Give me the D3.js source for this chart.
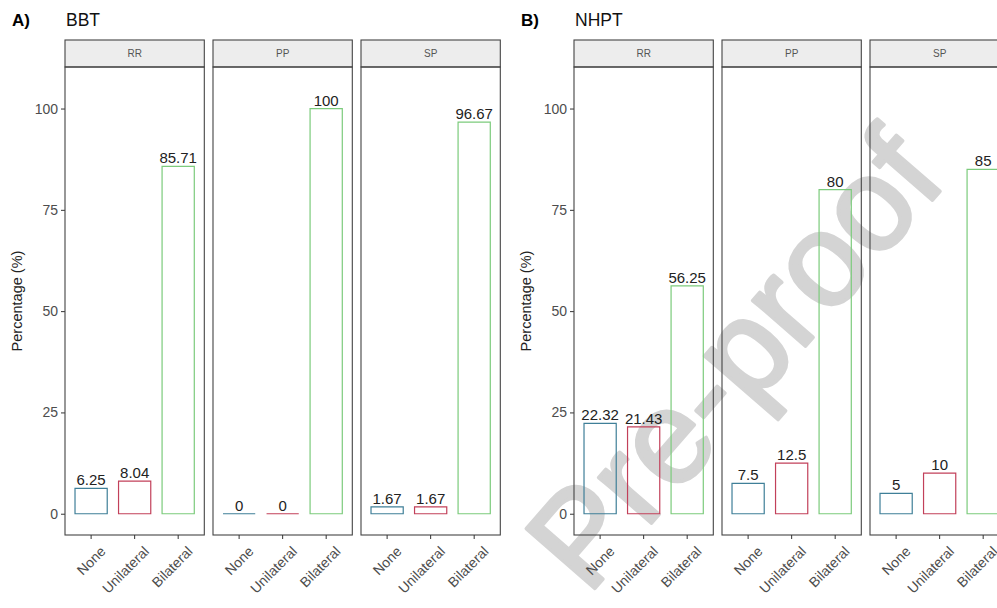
<!DOCTYPE html>
<html>
<head>
<meta charset="utf-8">
<script src="https://cdn.jsdelivr.net/npm/d3@7"></script>
<style>
  html, body { margin: 0; padding: 0; background: #fff; }
  svg { display: block; font-family: "Liberation Sans", Arial, Helvetica, sans-serif; }
</style>
</head>
<body>
<svg id="chart" width="997" height="608"></svg>
<script>
// ---- data ----
const categories = ["None", "Unilateral", "Bilateral"];
const facets = ["RR", "PP", "SP"];
const bbtRR = [6.25, 8.04, 85.71];
const bbtPP = [0, 0, 100];
const bbtSP = [1.67, 1.67, 96.67];
const nhptRR = [22.32, 21.43, 56.25];
const nhptPP = [7.5, 12.5, 80];
const nhptSP = [5, 10, 85];
const yTicks = [0, 25, 50, 75, 100];
const panelTitles = ["BBT", "NHPT"];
const panelTags = ["A)", "B)"];
const yTitle = "Percentage (%)";

const groups = [
  { tag: panelTags[0], title: panelTitles[0], series: [bbtRR, bbtPP, bbtSP], x0: 65 },
  { tag: panelTags[1], title: panelTitles[1], series: [nhptRR, nhptPP, nhptSP], x0: 574 }
];

// ---- style ----
const strokeCol = { "None": "#3f7f98", "Unilateral": "#c2405a", "Bilateral": "#7ccb7c" };
const panelW = 139.3, gap = 8.7;
const stripTop = 40, stripH = 27;
const plotTop = stripTop + stripH, plotBottom = 535;

const svg = d3.select("#chart");

// watermark (drawn first, chart lines over it)
svg.append("text")
  .attr("transform", "translate(742,366) rotate(-49)")
  .attr("text-anchor", "middle").attr("dominant-baseline", "middle")
  .attr("font-size", 132)
  .attr("fill", "#d4d4d4").attr("stroke", "#d4d4d4").attr("stroke-width", 3.5)
  .attr("stroke-linejoin", "round")
  .text("Pre-proof");

const y = d3.scaleLinear().domain([-5.25, 110.25]).range([plotBottom, plotTop]);

groups.forEach(g => {
  // tag and title
  svg.append("text").attr("x", g.x0 - 53).attr("y", 26)
    .attr("font-size", 17).attr("font-weight", "bold").attr("fill", "#000").text(g.tag);
  svg.append("text").attr("x", g.x0 + 1).attr("y", 26)
    .attr("font-size", 17.5).attr("fill", "#111").text(g.title);

  // y axis title
  svg.append("text")
    .attr("transform", `translate(${g.x0 - 43},${(plotTop + plotBottom) / 2}) rotate(-90)`)
    .attr("text-anchor", "middle").attr("font-size", 14.5).attr("fill", "#222")
    .text(yTitle);

  // y axis on first facet
  const yAxis = d3.axisLeft(y).tickValues(yTicks).tickSize(4).tickPadding(3);
  const ya = svg.append("g").attr("transform", `translate(${g.x0},0)`).call(yAxis);
  ya.select(".domain").remove();
  ya.selectAll(".tick line").attr("stroke", "#333");
  ya.selectAll(".tick text").attr("font-size", 14).attr("fill", "#4d4d4d").attr("font-family", "Liberation Sans, Arial, sans-serif");

  facets.forEach((f, i) => {
    const px = g.x0 + i * (panelW + gap);
    const vals = g.series[i];
    const x = d3.scaleBand().domain(categories).range([px, px + panelW])
      .paddingInner(0.26).paddingOuter(0.23);

    // strip
    svg.append("rect").attr("x", px).attr("y", stripTop).attr("width", panelW).attr("height", stripH)
      .attr("fill", "#ededed").attr("stroke", "#444").attr("stroke-width", 1.1);
    svg.append("text").attr("x", px + panelW / 2).attr("y", stripTop + stripH / 2 + 3.5)
      .attr("text-anchor", "middle").attr("font-size", 10).attr("fill", "#555").text(f);

    // bars (closed paths so zero-height bars still show a line)
    const data = categories.map((c, k) => ({ c, v: vals[k] }));
    const gb = svg.append("g");
    gb.selectAll("path.bar").data(data).join("path").attr("class", "bar")
      .attr("d", d => {
        const x0 = x(d.c), x1 = x(d.c) + x.bandwidth(), y0 = y(0), y1 = y(d.v);
        return `M${x0},${y0}L${x0},${y1}L${x1},${y1}L${x1},${y0}Z`;
      })
      .attr("fill", "#fff").attr("fill-opacity", 0)
      .attr("stroke", d => strokeCol[d.c]).attr("stroke-width", 1.2);
    gb.selectAll("text.lab").data(data).join("text").attr("class", "lab")
      .attr("x", d => x(d.c) + x.bandwidth() / 2).attr("y", d => y(d.v) - 3)
      .attr("text-anchor", "middle").attr("font-size", 15).attr("fill", "#222")
      .text(d => d.v);

    // panel border
    svg.append("rect").attr("x", px).attr("y", plotTop).attr("width", panelW).attr("height", plotBottom - plotTop)
      .attr("fill", "none").attr("stroke", "#444").attr("stroke-width", 1.1);

    // x axis
    const xAxis = d3.axisBottom(x).tickSize(4).tickSizeOuter(0);
    const xa = svg.append("g").attr("transform", `translate(0,${plotBottom})`).call(xAxis);
    xa.select(".domain").remove();
    xa.selectAll(".tick line").attr("stroke", "#333");
    xa.selectAll(".tick text")
      .attr("font-size", 14).attr("fill", "#4d4d4d").attr("font-family", "Liberation Sans, Arial, sans-serif")
      .attr("text-anchor", "end").attr("dy", null).attr("y", null)
      .attr("transform", "translate(8,10) rotate(-45)")
      .attr("dominant-baseline", "hanging");
  });
});
</script>
</body>
</html>
